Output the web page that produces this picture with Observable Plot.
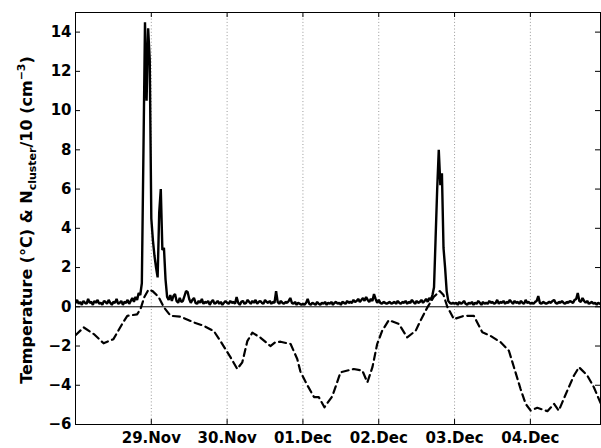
<!DOCTYPE html>
<html><head><meta charset="utf-8">
<script src="https://cdn.jsdelivr.net/npm/d3@7"></script>
<script src="https://cdn.jsdelivr.net/npm/@observablehq/plot@0.6"></script>
<style>body{margin:0;background:#fff}</style>
</head><body><div id="chart"></div>
<script>
// time origin: 28 Nov 00:00 (UTC); values in hours from origin
const startYear = 2006, startMonth = 10, startDay = 28;
const endHours = 166.2;
const ncStepHours = 0.5;

// N_cluster / 10 (cm^-3), half-hourly from 28 Nov 00:00
const nclusterTenth = [
  // 28 Nov
  0.20,0.35,0.15,0.25,0.10,0.30,0.20,0.15,0.40,0.20,
  0.25,0.10,0.30,0.20,0.35,0.15,0.20,0.10,0.30,0.25,
  0.15,0.35,0.20,0.10,0.25,0.20,0.40,0.15,0.20,0.30,
  0.10,0.25,0.20,0.35,0.15,0.30,0.45,0.25,0.50,0.35,
  0.70,0.60,1.20,7.80,14.50,10.50,14.20,12.60,
  // 29 Nov
  4.50,3.40,2.60,2.00,1.50,4.80,6.00,2.90,3.00,1.40,
  0.50,0.35,0.60,0.30,0.55,0.65,0.30,0.20,0.45,0.25,
  0.30,0.55,0.80,0.75,0.40,0.20,0.35,0.45,0.20,0.15,
  0.30,0.20,0.40,0.15,0.25,0.20,0.30,0.10,0.25,0.35,
  0.15,0.20,0.30,0.15,0.25,0.10,0.20,0.30,
  // 30 Nov
  0.20,0.15,0.30,0.20,0.25,0.15,0.50,0.20,0.10,0.25,
  0.30,0.15,0.20,0.35,0.25,0.15,0.30,0.20,0.35,0.15,
  0.25,0.30,0.20,0.15,0.35,0.25,0.20,0.30,0.15,0.25,
  0.20,0.80,0.25,0.15,0.30,0.20,0.15,0.25,0.20,0.30,
  0.45,0.20,0.15,0.25,0.10,0.20,0.15,0.10,
  // 01 Dec
  0.15,0.10,0.20,0.40,0.15,0.10,0.20,0.15,0.10,0.25,
  0.15,0.10,0.20,0.15,0.25,0.10,0.20,0.15,0.25,0.10,
  0.20,0.25,0.15,0.20,0.10,0.25,0.20,0.15,0.30,0.20,
  0.25,0.20,0.35,0.25,0.30,0.40,0.25,0.35,0.45,0.30,
  0.50,0.35,0.25,0.40,0.30,0.65,0.40,0.20,
  // 02 Dec
  0.35,0.20,0.15,0.25,0.20,0.15,0.20,0.25,0.15,0.20,
  0.25,0.15,0.30,0.20,0.15,0.25,0.20,0.30,0.15,0.25,
  0.20,0.35,0.25,0.15,0.30,0.20,0.25,0.35,0.20,0.30,
  0.40,0.25,0.45,0.35,0.60,1.00,3.50,6.00,8.00,6.20,
  6.80,3.00,2.00,0.80,0.30,0.20,0.15,0.20,
  // 03 Dec
  0.15,0.20,0.10,0.25,0.15,0.20,0.30,0.15,0.10,0.20,
  0.15,0.25,0.10,0.20,0.15,0.30,0.20,0.10,0.25,0.15,
  0.20,0.15,0.30,0.20,0.25,0.15,0.20,0.35,0.15,0.25,
  0.20,0.30,0.15,0.25,0.20,0.35,0.25,0.15,0.30,0.20,
  0.25,0.15,0.30,0.20,0.15,0.35,0.20,0.25,
  // 04 Dec
  0.15,0.20,0.15,0.25,0.30,0.55,0.20,0.15,0.25,0.20,
  0.15,0.20,0.25,0.20,0.30,0.35,0.20,0.15,0.25,0.20,
  0.30,0.20,0.15,0.25,0.20,0.30,0.25,0.20,0.35,0.40,
  0.70,0.30,0.25,0.45,0.30,0.20,0.30,0.15,0.20,0.25,
  0.15,0.20,0.10,0.20,0.15
];

// Temperature (°C)
const tempHours = [0,2.6,5.8,8.9,12.0,14.8,16.4,19.5,20.6,21.8,23.1,24.4,26.3,28.0,30.1,33.2,37.5,40.6,43.8,45.9,
  49.1,51.2,52.8,54.4,56.0,58.6,61.7,63.3,64.9,68.1,70.2,71.2,73.4,75.5,77.0,78.8,81.3,83.9,88.1,90.8,
  92.4,94.0,95.5,97.1,99.2,102.4,105.0,107.7,109.2,111.4,113.4,115.3,116.5,117.7,119.8,123.0,126.1,128.8,131.4,134.6,
  137.2,138.8,140.9,142.5,144.1,146.2,149.4,151.5,153.0,155.7,157.8,159.4,162.0,164.1,166.2];
const tempValues = [-1.45,-1.05,-1.39,-1.86,-1.65,-0.87,-0.46,-0.39,-0.10,0.50,0.87,0.80,0.50,-0.03,-0.46,-0.50,-0.80,-0.97,-1.24,-1.75,
  -2.58,-3.17,-2.83,-1.75,-1.32,-1.58,-2.00,-1.80,-1.78,-1.90,-2.66,-3.30,-4.00,-4.60,-4.60,-5.12,-4.56,-3.34,-3.17,-3.25,
  -3.85,-3.08,-1.90,-1.22,-0.68,-0.88,-1.56,-1.22,-0.71,-0.03,0.50,0.80,0.60,0.00,-0.63,-0.46,-0.46,-1.30,-1.48,-1.81,
  -2.24,-3.08,-4.19,-4.95,-5.29,-5.15,-5.32,-4.95,-5.29,-4.27,-3.50,-3.08,-3.50,-4.10,-4.90];

const dayTickLabels = ["29.Nov","30.Nov","01.Dec","02.Dec","03.Dec","04.Dec"];
const dayTickOffsets = [1,2,3,4,5,6]; // days from origin
const yTicks = [-6,-4,-2,0,2,4,6,8,10,12,14];
const yDomain = [-6, 15];

// ---- build ----
const t0 = Date.UTC(startYear, startMonth, startDay);
const H_MS = 3600e3;
const ncData = nclusterTenth.map((v, i) => ({date: new Date(t0 + i * ncStepHours * H_MS), value: v}));
const tempData = tempHours.map((h, i) => ({date: new Date(t0 + h * H_MS), value: tempValues[i]}));
const days = dayTickOffsets.map(d => new Date(t0 + d * 24 * H_MS));
const labelOf = new Map(days.map((d, i) => [+d, dayTickLabels[i]]));

const W = 601, H = 448, mL = 75, mR = 1, mT = 12, mB = 24;
const innerW = W - mL - mR, innerH = H - mT - mB, tk = 5;

const plot = Plot.plot({
  width: W, height: H,
  marginLeft: mL, marginRight: mR, marginTop: mT, marginBottom: mB,
  style: {fontFamily: "'DejaVu Sans', sans-serif", fontWeight: "bold", fontSize: "15px", background: "white", color: "black"},
  x: {type: "utc", domain: [new Date(t0), new Date(t0 + endHours * H_MS)]},
  y: {domain: yDomain},
  marks: [
    Plot.ruleX(days, {x: d => d, stroke: "#999", strokeWidth: 1, strokeDasharray: "1,2.3"}),
    Plot.ruleY([0], {stroke: "black", strokeWidth: 1}),
    Plot.line(tempData, {x: "date", y: "value", stroke: "black", strokeWidth: 2.2, strokeDasharray: "7,4.5", clip: true}),
    Plot.line(ncData, {x: "date", y: "value", stroke: "black", strokeWidth: 2.4, strokeLinejoin: "miter", clip: true}),
    Plot.tickX(days, {x: d => d, insetTop: innerH - tk, stroke: "black"}),
    Plot.tickX(days, {x: d => d, insetBottom: innerH - tk, stroke: "black"}),
    Plot.tickY(yTicks, {y: d => d, insetRight: innerW - tk, stroke: "black"}),
    Plot.tickY(yTicks, {y: d => d, insetLeft: innerW - tk, stroke: "black"}),
    Plot.frame({stroke: "black", strokeWidth: 1}),
    Plot.axisX({ticks: days, tickSize: 0, tickPadding: 8, tickFormat: d => labelOf.get(+d), label: null}),
    Plot.axisY({ticks: yTicks, tickSize: 0, tickPadding: 4, label: null})
  ]
});

const svg = d3.select(plot);
const lab = svg.append("text")
  .attr("transform", "translate(31.5,220) rotate(-90)")
  .attr("text-anchor", "middle")
  .attr("fill", "black")
  .style("font-family", "'DejaVu Sans', sans-serif")
  .style("font-weight", "bold")
  .style("font-size", "16px");
lab.append("tspan").text("Temperature (°C) & N");
lab.append("tspan").attr("font-size", "11px").attr("dy", "4").text("cluster");
lab.append("tspan").attr("dy", "-4").text("/10 (cm");
lab.append("tspan").attr("font-size", "11px").attr("dy", "-7").text("−3");
lab.append("tspan").attr("dy", "7").text(")");

document.getElementById("chart").append(plot);
</script>
</body></html>
